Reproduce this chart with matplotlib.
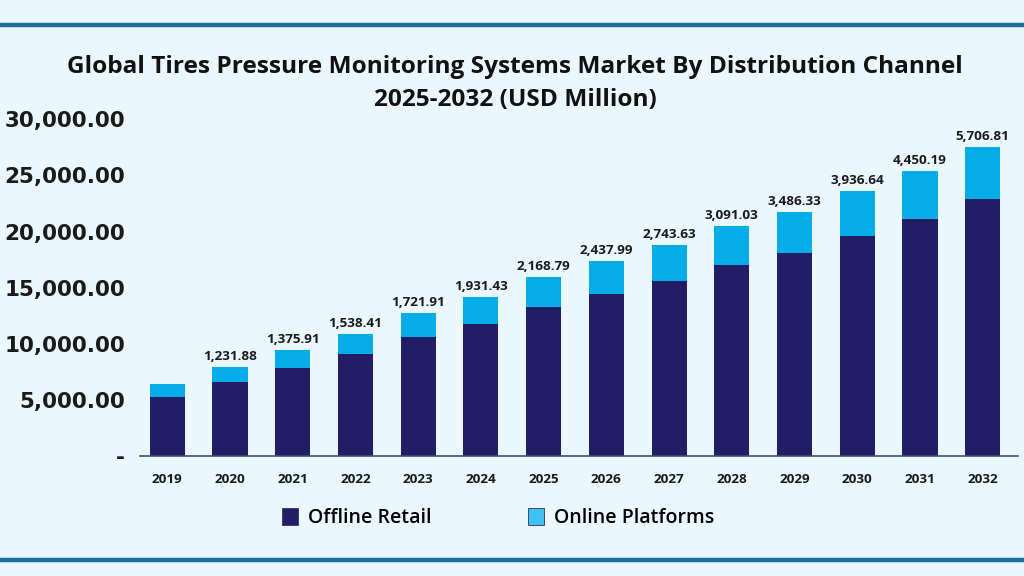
import matplotlib.pyplot as plt
from matplotlib.lines import Line2D

years = ["2019", "2020", "2021", "2022", "2023", "2024", "2025",
         "2026", "2027", "2028", "2029", "2030", "2031", "2032"]
offline = [5290, 6628, 7876, 9098, 10588, 11801, 13291,
           14424, 15637, 17037, 18081, 19624, 21140, 22862]
online = [1106, 1338, 1579, 1811, 2141, 2409, 2676,
          2943, 3184, 3452, 3684, 4014, 4255, 4638]
top_labels = ["", "1,231.88", "1,375.91", "1,538.41", "1,721.91", "1,931.43",
              "2,168.79", "2,437.99", "2,743.63", "3,091.03", "3,486.33",
              "3,936.64", "4,450.19", "5,706.81"]
yticks = [0, 5000, 10000, 15000, 20000, 25000, 30000]
ytick_labels = ["-", "5,000.00", "10,000.00", "15,000.00",
                "20,000.00", "25,000.00", "30,000.00"]

bg = "#eaf7fd"
dark = "#231d66"
light = "#05ade8"

plt.rcParams["font.family"] = ["Open Sans", "DejaVu Sans"]

fig = plt.figure(figsize=(10.24, 5.76), dpi=100, facecolor=bg)
ax = fig.add_axes([0.137, 0.2083, 0.857, 0.5846])
ax.set_facecolor(bg)

x = list(range(len(years)))
ax.bar(x, offline, width=0.56, color=dark, label="Offline Retail")
totals = [a + b for a, b in zip(offline, online)]
ax.bar(x, online, width=0.56, bottom=offline, color=light,
       label="Online Platforms")

for xi, t, lab in zip(x, totals, top_labels):
    if lab:
        ax.text(xi, t + 350, lab, ha="center", va="bottom",
                fontsize=9.7, fontweight="bold", color="#1a1a1a")

ax.set_xlim(-0.43, 13.56)
ax.set_ylim(0, 30000)
ax.set_xticks(x)
ax.set_xticklabels(years, fontsize=9.7, fontweight="bold", color="#1a1a1a")
ax.set_yticks(yticks)
ax.set_yticklabels(ytick_labels, fontsize=15.5, fontweight="bold",
                   color="#1a1a1a", family=["DejaVu Sans"])
ax.tick_params(axis="both", length=0)
ax.tick_params(axis="x", pad=12)
ax.tick_params(axis="y", pad=11)
for s in ["top", "right", "left"]:
    ax.spines[s].set_visible(False)
ax.spines["bottom"].set_color("#3d4f7a")
ax.spines["bottom"].set_linewidth(1.2)

fig.text(0.503, 0.884, "Global Tires Pressure Monitoring Systems Market By Distribution Channel",
         ha="center", va="center", fontsize=17.6, fontweight="bold", color="#111111")
fig.text(0.503, 0.826, "2025-2032 (USD Million)",
         ha="center", va="center", fontsize=17.6, fontweight="bold", color="#111111")

h1 = plt.Rectangle((0, 0), 1, 1, facecolor=dark, edgecolor="#333355", linewidth=0.6)
h2 = plt.Rectangle((0, 0), 1, 1, facecolor="#3ec0f0", edgecolor="#333355", linewidth=0.6)
fig.legend([h1, h2], ["Offline Retail", "Online Platforms"], loc="center",
           bbox_to_anchor=(0.4865, 0.101), ncol=2, frameon=False,
           columnspacing=5.0, handlelength=0.8, handleheight=1.0,
           handletextpad=0.5, prop={"weight": "semibold", "size": 14})

for yy in [1 - 24.5 / 576, 1 - 560 / 576]:
    fig.add_artist(Line2D([0, 1], [yy, yy], color="#1f6f9c", linewidth=3.2,
                          transform=fig.transFigure))

fig.savefig("out.png", dpi=100, facecolor=bg)
